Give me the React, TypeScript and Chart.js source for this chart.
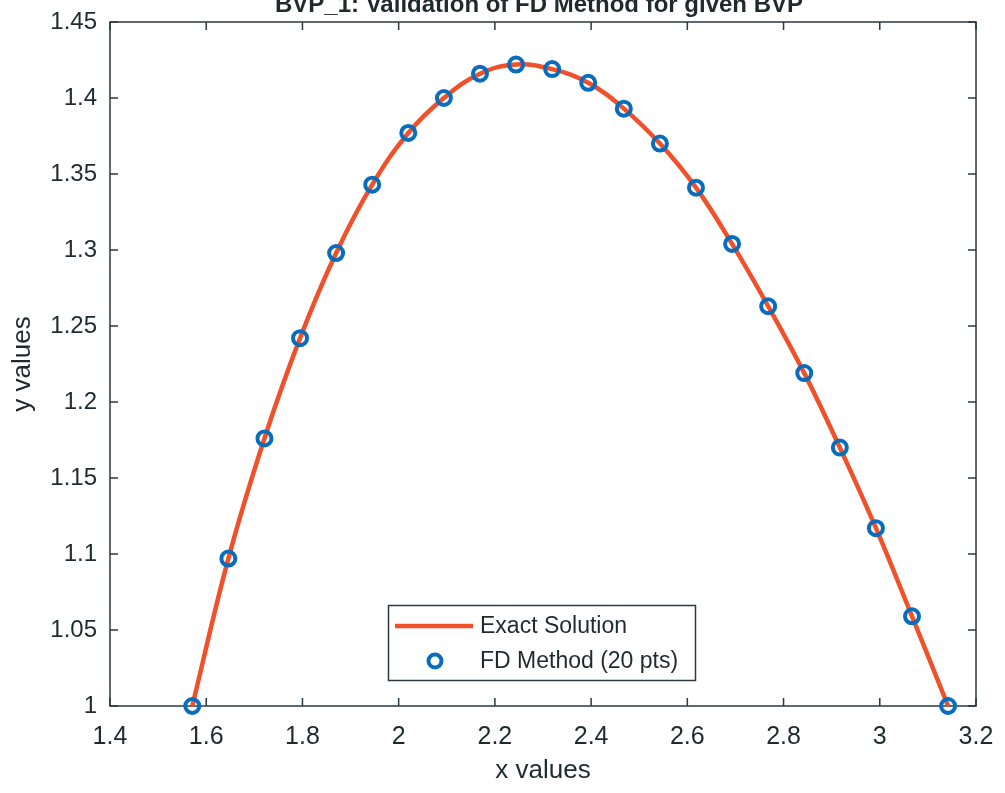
import React, { useEffect, useRef } from "react";
import { Chart, registerables } from "chart.js";

Chart.register(...registerables);

const titleText = "BVP_1: Validation of FD Method for given BVP";
const xLabel = "x values";
const yLabel = "y values";
const exactLabel = "Exact Solution";
const fdLabel = "FD Method (20 pts)";

const xValues = [1.571, 1.646, 1.721, 1.795, 1.870, 1.945, 2.020, 2.094, 2.169, 2.244, 2.319, 2.394, 2.468, 2.543, 2.618, 2.693, 2.768, 2.843, 2.917, 2.992, 3.067, 3.142];
const fdValues = [1.000, 1.097, 1.176, 1.242, 1.298, 1.343, 1.377, 1.400, 1.416, 1.422, 1.419, 1.410, 1.393, 1.370, 1.341, 1.304, 1.263, 1.219, 1.170, 1.117, 1.059, 1.000];
const exactValues = [1.000, 1.097, 1.176, 1.242, 1.298, 1.343, 1.377, 1.400, 1.416, 1.422, 1.419, 1.410, 1.393, 1.370, 1.341, 1.304, 1.263, 1.219, 1.170, 1.117, 1.059, 1.000];

const xTicks = { min: 1.4, max: 3.2, step: 0.2 };
const yTicks = { min: 1, max: 1.45, step: 0.05 };

const FONT = "'Liberation Sans', Arial, Helvetica, sans-serif";
const LINE_COLOR = "#F0502A";
const MARK_COLOR = "#0A6CBD";
const AXIS_COLOR = "#2a3a40";
const TEXT_COLOR = "#1f2a2e";

const fmt = (v: number) => String(Number(v.toFixed(2)));

const decorPlugin = {
  id: "decor",
  beforeDatasetsDraw(chart: any) {
    const { ctx, chartArea } = chart;
    const { left, right, top, bottom } = chartArea;
    const xs = chart.scales.x;
    const ys = chart.scales.y;
    ctx.save();
    ctx.strokeStyle = AXIS_COLOR;
    ctx.lineWidth = 1.5;
    ctx.strokeRect(left, top, right - left, bottom - top);
    const tl = 8;
    ctx.beginPath();
    xs.ticks.forEach((t: any) => {
      const px = xs.getPixelForValue(t.value);
      ctx.moveTo(px, bottom);
      ctx.lineTo(px, bottom - tl);
      ctx.moveTo(px, top);
      ctx.lineTo(px, top + tl);
    });
    ys.ticks.forEach((t: any) => {
      const py = ys.getPixelForValue(t.value);
      ctx.moveTo(left, py);
      ctx.lineTo(left + tl, py);
      ctx.moveTo(right, py);
      ctx.lineTo(right - tl, py);
    });
    ctx.stroke();
    // title (partially cut at top)
    ctx.fillStyle = TEXT_COLOR;
    ctx.font = `bold 24px ${FONT}`;
    ctx.textAlign = "center";
    ctx.textBaseline = "alphabetic";
    ctx.fillText(titleText, (left + right) / 2 - 4, 12);
    ctx.restore();
  },
  afterDatasetsDraw(chart: any) {
    const { ctx } = chart;
    ctx.save();
    const bx = 388.5, by = 605.5, bw = 307, bh = 75;
    ctx.fillStyle = "#ffffff";
    ctx.fillRect(bx, by, bw, bh);
    ctx.strokeStyle = AXIS_COLOR;
    ctx.lineWidth = 1.5;
    ctx.strokeRect(bx, by, bw, bh);
    // line sample
    ctx.strokeStyle = LINE_COLOR;
    ctx.lineWidth = 4.5;
    ctx.beginPath();
    ctx.moveTo(395, 626);
    ctx.lineTo(473, 626);
    ctx.stroke();
    // marker sample
    ctx.strokeStyle = MARK_COLOR;
    ctx.lineWidth = 4;
    ctx.beginPath();
    ctx.arc(435, 661, 6.5, 0, Math.PI * 2);
    ctx.stroke();
    ctx.fillStyle = TEXT_COLOR;
    ctx.font = `23px ${FONT}`;
    ctx.textAlign = "left";
    ctx.textBaseline = "middle";
    ctx.fillText(exactLabel, 480, 627);
    ctx.fillText(fdLabel, 480, 662);
    ctx.restore();
  },
};

export default function App() {
  const ref = useRef<HTMLCanvasElement>(null);
  useEffect(() => {
    if (!ref.current) return;
    const chart = new Chart(ref.current, {
      type: "scatter",
      data: {
        datasets: [
          {
            label: fdLabel,
            data: xValues.map((x, i) => ({ x, y: fdValues[i] })),
            showLine: false,
            pointRadius: 7,
            pointHoverRadius: 7,
            pointBorderWidth: 4,
            pointBorderColor: MARK_COLOR,
            pointBackgroundColor: "rgba(0,0,0,0)",
            clip: false,
            order: 0,
          },
          {
            label: exactLabel,
            data: xValues.map((x, i) => ({ x, y: exactValues[i] })),
            showLine: true,
            borderColor: LINE_COLOR,
            borderWidth: 4.5,
            tension: 0.4,
            pointRadius: 0,
            clip: false,
            order: 1,
          },
        ],
      },
      options: {
        responsive: false,
        animation: false,
        layout: { padding: { top: 22, right: 29, left: 0, bottom: 0 } },
        plugins: { legend: { display: false }, tooltip: { enabled: false }, title: { display: false } },
        scales: {
          x: {
            type: "linear",
            min: xTicks.min,
            max: xTicks.max,
            grid: { display: false, drawTicks: false },
            border: { display: false },
            ticks: {
              stepSize: xTicks.step,
              padding: 16,
              color: TEXT_COLOR,
              font: { family: FONT, size: 25 },
              callback: (v: any) => fmt(Number(v)),
            },
            title: {
              display: true,
              text: xLabel,
              color: TEXT_COLOR,
              font: { family: FONT, size: 26 },
              padding: { top: 0, bottom: 7 },
            },
            afterFit: (s: any) => { s.height = 87; s.paddingLeft = 0; s.paddingRight = 0; },
          },
          y: {
            type: "linear",
            min: yTicks.min,
            max: yTicks.max,
            grid: { display: false, drawTicks: false },
            border: { display: false },
            ticks: {
              stepSize: yTicks.step,
              padding: 13,
              color: TEXT_COLOR,
              font: { family: FONT, size: 24 },
              callback: (v: any) => fmt(Number(v)),
            },
            title: {
              display: true,
              text: yLabel,
              color: TEXT_COLOR,
              font: { family: FONT, size: 26 },
              padding: { top: 7, bottom: 0 },
            },
            afterFit: (s: any) => { s.width = 110; s.paddingTop = 0; s.paddingBottom = 0; },
          },
        },
      },
      plugins: [decorPlugin],
    });
    return () => chart.destroy();
  }, []);
  return (
    <div style={{ position: "absolute", left: 0, top: 0, width: 1005, height: 793, background: "#fff" }}>
      <canvas ref={ref} width={1005} height={793} />
    </div>
  );
}
